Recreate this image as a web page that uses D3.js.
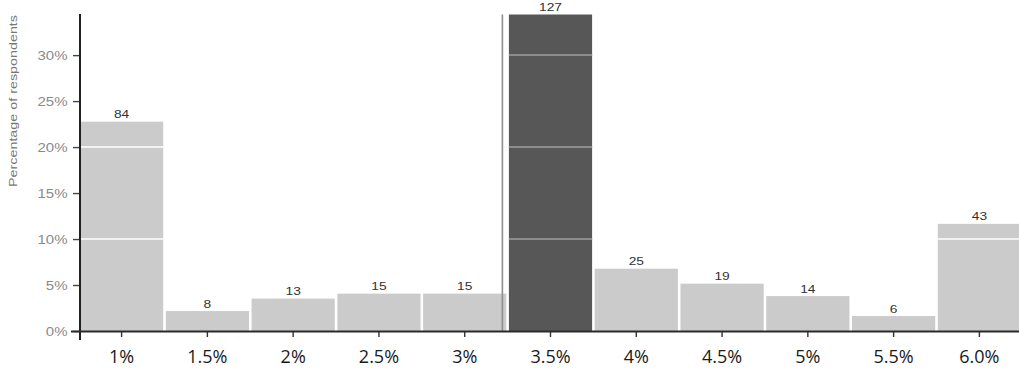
<!DOCTYPE html>
<html>
<head>
<meta charset="utf-8">
<script src="https://cdn.jsdelivr.net/npm/d3@7"></script>
<style>
  html, body { margin: 0; padding: 0; background: #fff; }
  svg { display: block; }
</style>
</head>
<body>
<svg id="chart" width="1019" height="371"></svg>
<script>
// Expected rate buckets and number of respondents choosing each
const categories = ["1%", "1.5%", "2%", "2.5%", "3%", "3.5%", "4%", "4.5%", "5%", "5.5%", "6.0%"];
const counts = [84, 8, 13, 15, 15, 127, 25, 19, 14, 6, 43];
const highlighted = ["3.5%"];
const yTicks = [0, 5, 10, 15, 20, 25, 30];
const bandLines = [10, 20, 30];
const yTitle = "Percentage of respondents";

const total = d3.sum(counts);
const data = categories.map((c, i) => ({ cat: c, count: counts[i], pct: counts[i] / total * 100 }));

const svg = d3.select("#chart");
const x0 = 80, x1 = 1021, yBase = 331, yTop = 14.5;
const sx = 1.25; // horizontal stretch of small labels

const x = d3.scaleBand().domain(categories).range([x0, x1]).paddingInner(0.03).paddingOuter(0);
const y = d3.scaleLinear().domain([0, d3.max(data, d => d.pct)]).range([yBase, yTop]);

const isHi = c => highlighted.includes(c);

// bars
const bars = svg.append("g").selectAll("g.bar").data(data).join("g").attr("class", "bar");
bars.append("rect")
  .attr("x", d => x(d.cat))
  .attr("y", d => y(d.pct))
  .attr("width", x.bandwidth())
  .attr("height", d => yBase - y(d.pct))
  .attr("fill", d => isHi(d.cat) ? "#575757" : "#cbcbcb");

// light reference lines running through each bar
bars.each(function(d) {
  const g = d3.select(this);
  bandLines.filter(v => v < d.pct).forEach(v => {
    g.append("line")
      .attr("x1", x(d.cat)).attr("x2", x(d.cat) + x.bandwidth())
      .attr("y1", y(v)).attr("y2", y(v))
      .attr("stroke", isHi(d.cat) ? "#8c8c8c" : "#f2f2f2")
      .attr("stroke-width", 2);
  });
});

// vertical marker just before the highlighted bucket
const mx = x(highlighted[0]) - 6.5;
svg.append("line")
  .attr("x1", mx).attr("x2", mx)
  .attr("y1", yTop).attr("y2", yBase)
  .attr("stroke", "#8e8e8e").attr("stroke-width", 1.6);

// value labels
svg.append("g").selectAll("text").data(data).join("text")
  .attr("font-family", "Liberation Sans, Arial, sans-serif")
  .attr("font-size", 11)
  .attr("fill", "#333")
  .attr("text-anchor", "middle")
  .attr("transform", d => `translate(${x(d.cat) + x.bandwidth() / 2},${y(d.pct) - 3.5}) scale(${sx},1)`)
  .text(d => d.count);

// y axis
const yAxis = svg.append("g")
  .attr("transform", `translate(${x0},0)`)
  .call(d3.axisLeft(y).tickValues(yTicks).tickFormat(d => d + "%").tickSize(7).tickSizeOuter(0));
yAxis.select(".domain").remove();
yAxis.selectAll(".tick line").attr("stroke", "#444").attr("stroke-width", 1.4);
yAxis.selectAll(".tick text")
  .attr("font-family", "Liberation Sans, Arial, sans-serif")
  .attr("font-size", 12)
  .attr("fill", "#8a8a8a")
  .attr("x", 0).attr("dy", "0.36em")
  .attr("transform", `translate(-12.5,0) scale(${sx},1)`);
svg.append("line")
  .attr("x1", x0).attr("x2", x0).attr("y1", yTop - 0.5).attr("y2", 340)
  .attr("stroke", "#222").attr("stroke-width", 2);

// x axis
const xAxis = svg.append("g")
  .attr("transform", `translate(0,${yBase})`)
  .call(d3.axisBottom(x).tickSize(6).tickSizeOuter(0));
xAxis.select(".domain").remove();
xAxis.selectAll(".tick line").attr("stroke", "#333").attr("stroke-width", 1.4);
xAxis.selectAll(".tick text")
  .attr("font-family", "Open Sans, sans-serif")
  .attr("font-size", 18)
  .attr("fill", "#1a1a1a")
  .attr("y", 32).attr("dy", 0);
svg.append("line")
  .attr("x1", 71).attr("x2", 1019).attr("y1", yBase + 0.5).attr("y2", yBase + 0.5)
  .attr("stroke", "#2a2a2a").attr("stroke-width", 2);

// y axis title
svg.append("text")
  .attr("transform", "translate(17,15) rotate(-90)")
  .attr("text-anchor", "end")
  .attr("font-family", "Liberation Sans, Arial, sans-serif")
  .attr("font-size", 11)
  .attr("fill", "#777")
  .attr("textLength", 172)
  .attr("lengthAdjust", "spacingAndGlyphs")
  .text(yTitle);
</script>
</body>
</html>
